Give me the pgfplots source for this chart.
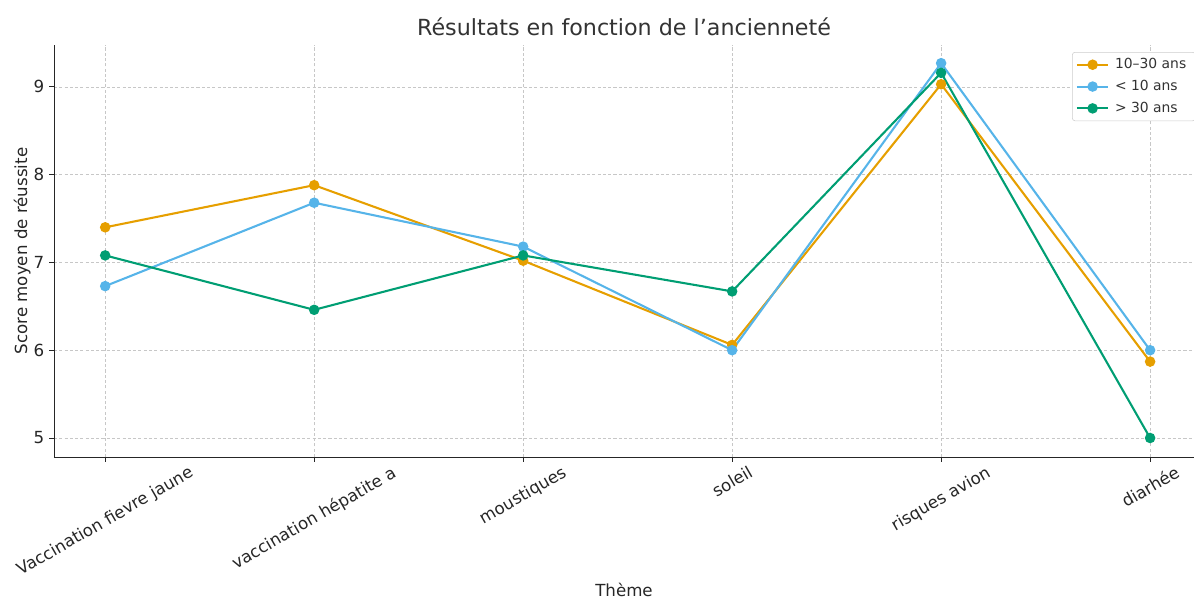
\documentclass[border=0pt]{standalone}
\usepackage{fontspec}
\setmainfont{DejaVu Sans}
\usepackage{graphicx}
\usepackage{pgfplots}
\pgfplotsset{compat=1.18}
\definecolor{cmid}{HTML}{E69F00}
\definecolor{cyoung}{HTML}{56B4E9}
\definecolor{cold}{HTML}{009E73}
\definecolor{txt}{HTML}{262626}
\begin{document}
\begin{tikzpicture}
  \begin{axis}[
      scale only axis,
      width=820.8pt,
      height=296.6pt,
      xmin=-0.245, xmax=5.21,
      ymin=4.784, ymax=9.477,
      axis lines=left,
      axis line style={-, line width=0.6pt, black!85},
      tick align=outside,
      major tick length=3.5pt,
      tick style={line width=0.6pt, black!85},
      xtick={0,1,2,3,4,5},
      xticklabels={\rotatebox{30}{Vaccination fievre jaune},
                   \rotatebox{30}{vaccination hépatite a},
                   \rotatebox{30}{moustiques},
                   \rotatebox{30}{soleil},
                   \rotatebox{30}{risques avion},
                   \rotatebox{30}{diarhée}},
      ytick={5,6,7,8,9},
      /pgf/number format/assume math mode=true,
      ticklabel style={font=\fontsize{12}{14}\selectfont, text=txt},
      x tick label style={anchor=north, inner sep=0pt, yshift=-2pt},
      grid=major,
      grid style={line width=0.5pt, black!22, dash pattern=on 2.2pt off 1.6pt},
      title={Résultats en fonction de l’ancienneté},
      title style={font=\fontsize{16}{19}\selectfont, text=black!80,
                   at={(axis description cs:0.5,1.024)}, anchor=center},
      xlabel={Thème},
      xlabel style={font=\fontsize{12}{14}\selectfont, text=txt,
                    at={(axis description cs:0.5,-0.322)}, anchor=center},
      ylabel={Score moyen de réussite},
      ylabel style={font=\fontsize{12}{14}\selectfont, text=txt,
                    at={(axis description cs:-0.028,0.5)}, anchor=center},
      legend style={at={(rel axis cs:0.893,0.983)}, anchor=north west,
                    font=\fontsize{10}{12}\selectfont, text=black!80,
                    draw=black!20, rounded corners=2pt, fill=white,
                    inner sep=2.5pt, row sep=2.8pt,
                    nodes={inner xsep=4pt}},
      legend cell align=left,
      legend image code/.code={
        \draw[mark repeat=2, mark phase=2]
          plot coordinates {(0cm,0cm) (0.4cm,0cm) (0.8cm,0cm)};},
      every axis plot/.append style={line width=1.5pt, mark=*, mark size=3pt},
    ]
    \coordinate (bl) at (rel axis cs:0,0);
    \coordinate (tr) at (rel axis cs:1,1);

    % 10-30 ans
    \addplot [color=cmid] coordinates {
      (0, 7.40) (1, 7.88) (2, 7.02) (3, 6.06) (4, 9.03) (5, 5.87)
    };
    \addlegendentry{10–30 ans}

    % < 10 ans
    \addplot [color=cyoung] coordinates {
      (0, 6.73) (1, 7.68) (2, 7.18) (3, 6.00) (4, 9.27) (5, 6.00)
    };
    \addlegendentry{< 10 ans}

    % > 30 ans
    \addplot [color=cold] coordinates {
      (0, 7.08) (1, 6.46) (2, 7.08) (3, 6.67) (4, 9.16) (5, 5.00)
    };
    \addlegendentry{> 30 ans}
  \end{axis}
  \pgfresetboundingbox
  \path ([shift={(-38.88pt,-102.24pt)}]bl) rectangle ([shift={(0pt,32.4pt)}]tr);
\end{tikzpicture}
\end{document}
